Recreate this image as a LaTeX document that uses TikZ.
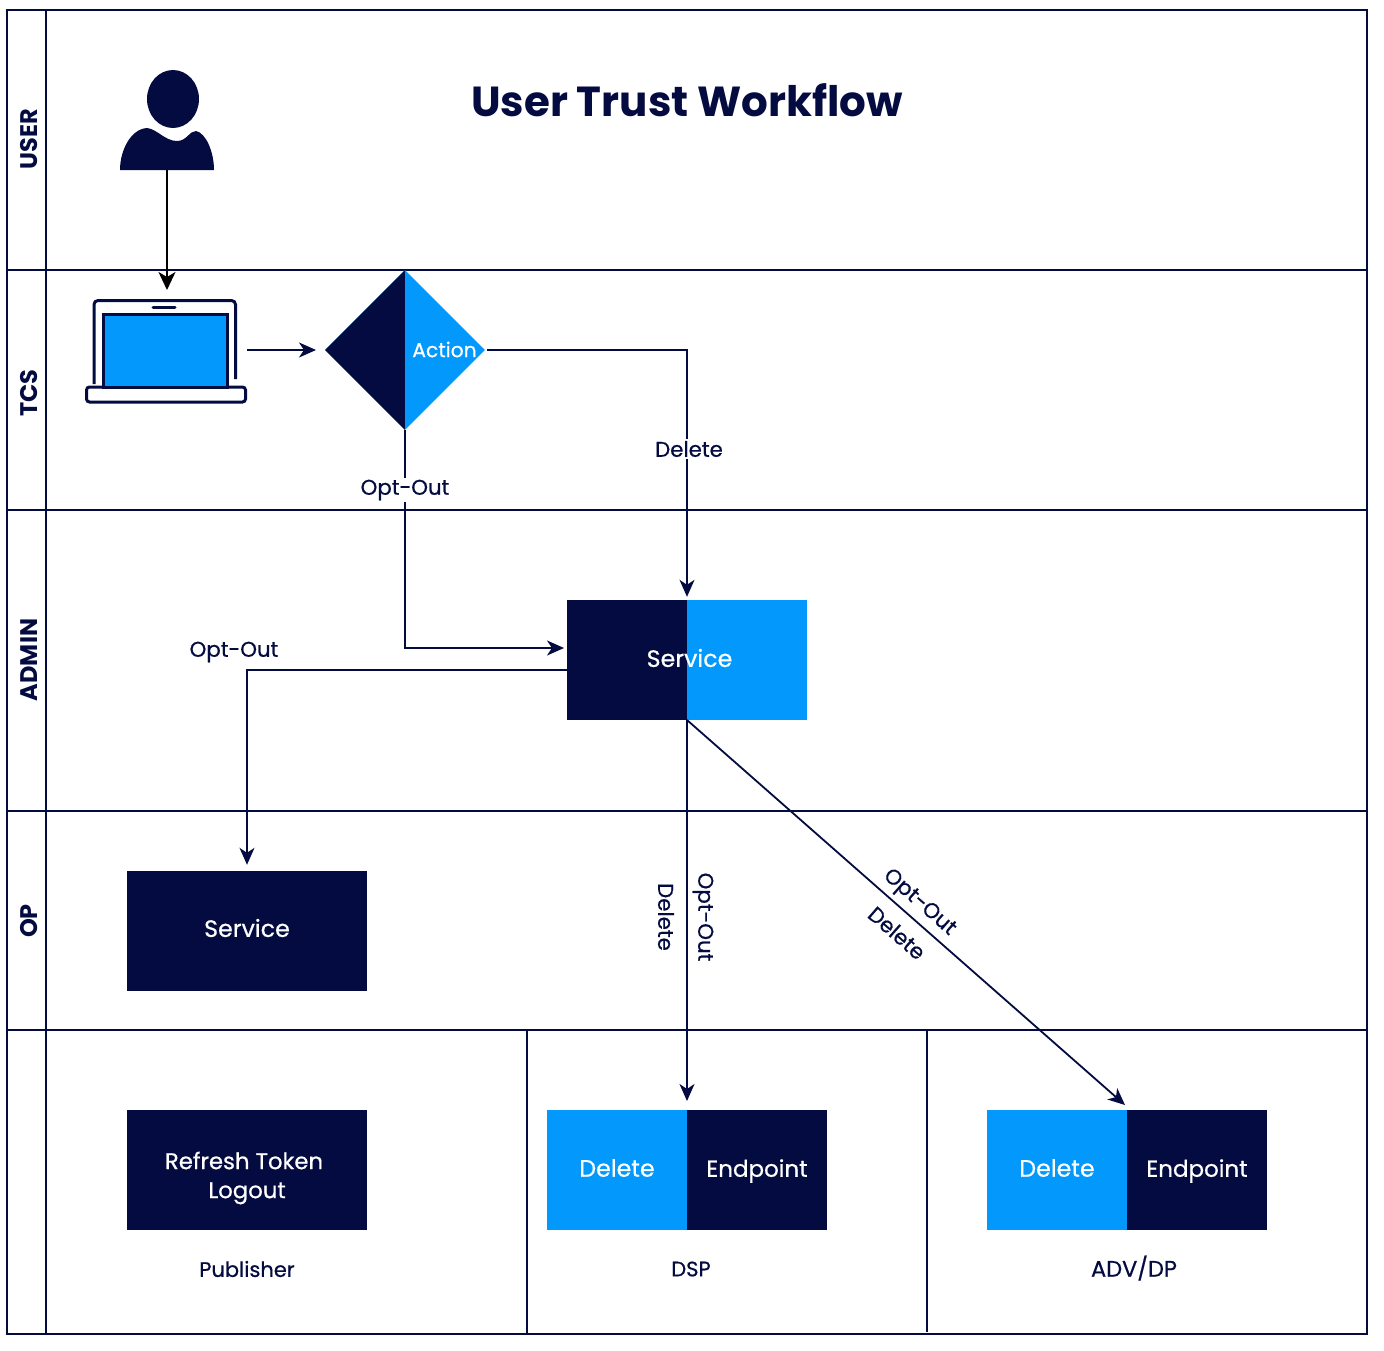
\documentclass[tikz,border=0pt]{standalone}
\usepackage{fontspec}
\setmainfont{Poppins}
\newfontfamily\heavyfont{Poppins}[FakeBold=0.6]
\usetikzlibrary{shapes.geometric,arrows.meta}
\definecolor{navy}{HTML}{030B40}
\definecolor{sky}{HTML}{0398FC}
\tikzset{
    lane/.style={draw=navy, line width=2pt},
    flow/.style={draw=navy, line width=1.8pt, -{Stealth[length=17pt,width=15pt,inset=5pt]}},
    lanelabel/.style={text=navy, font=\fontsize{24}{28}\selectfont\bfseries, rotate=90},
    edgelabel/.style={text=navy, font=\fontsize{21.3}{24}\selectfont\heavyfont, inner sep=2pt},
    collabel/.style={text=navy, font=\fontsize{21}{24}\selectfont\heavyfont, inner sep=2pt},
    boxlabel/.style={text=white, font=\fontsize{23.7}{29}\selectfont\heavyfont, align=center, inner sep=0pt},
    darkbox/.style={fill=navy, minimum width=240pt, minimum height=120pt, inner sep=0pt},
    halfbox/.style={minimum width=140pt, minimum height=120pt, inner sep=0pt},
}
\begin{document}
\begin{tikzpicture}[x=1pt,y=-1pt]
        \useasboundingbox (0,0) rectangle (1384,1350);

        % Lanes
        \draw[lane] (7,10) rectangle (1367,1334);
        \draw[lane] (46,10) -- (46,1334);
        \foreach \y in {270,510,811,1030}
            \draw[lane] (7,\y) -- (1367,\y);
        \draw[lane] (527,1030) -- (527,1334);
        \draw[lane] (927,1030) -- (927,1332);

        % Lane names
        \node[lanelabel] (laneUser) at (29.5,139) {USER};
        \node[lanelabel] (laneTcs) at (29.5,393) {TCS};
        \node[lanelabel] (laneAdmin) at (29.5,660) {ADMIN};
        \node[lanelabel] (laneOp) at (29.5,921) {OP};

        % Title
        \node[text=navy, font=\fontsize{42}{50}\selectfont\bfseries] (title) at (687,100) {User Trust Workflow};

        % Person
        \fill[navy] (173,99) ellipse (26 and 29);
        \fill[navy] (120,170) .. controls (120,150) and (131,129) .. (147,128)
            .. controls (157,129) and (165,141) .. (177,141)
            .. controls (187,141) and (189,131) .. (196,131)
            .. controls (206,133) and (214,152) .. (214,170) -- cycle;
        \coordinate (userFoot) at (167,170);

        % Laptop
        \draw[navy, line width=3pt, rounded corners=4pt] (94,384) -- (94,300.5) -- (235.5,300.5) -- (235.5,379);
        \draw[navy, line width=3pt, fill=white, rounded corners=3pt] (86.5,387) -- (86.5,402) -- (245.5,402) -- (245.5,387) -- (229,387) -- (103,387) -- cycle;
        \draw[navy, line width=3pt, fill=sky] (103,314) rectangle (227,387);
        \draw[navy, line width=3pt, line cap=round] (153,307) -- (175,307);
        \coordinate (laptopTop) at (167,290);
        \coordinate (laptopEast) at (247,350);

        % Diamond
        \node[diamond, fill=sky, minimum width=160pt, minimum height=160pt, inner sep=0pt,
            path picture={\fill[navy] (path picture bounding box.north west) rectangle (path picture bounding box.south);}] (action) at (405,350) {};
        \node[boxlabel, font=\fontsize{20.3}{24}\selectfont\heavyfont] (actionText) at (444.5,349.5) {Action};

        % Boxes
        \node[darkbox, fill=sky,
            path picture={\fill[navy] (path picture bounding box.north west) rectangle (path picture bounding box.south);}] (service) at (687,660) {};
        \node[boxlabel] (serviceText) at (689.5,658) {Service};
        \node[darkbox] (opService) at (247,931) {};
        \node[boxlabel] (opServiceText) at (247,928) {Service};
        \node[darkbox] (publisher) at (247,1170) {};
        \node[boxlabel, font=\fontsize{22.8}{29}\selectfont\heavyfont] (publisherText) at (244,1178) {Refresh Token\\\ Logout};

        \node[halfbox, fill=sky] (dspDelete) at (617,1170) {};
        \node[halfbox, fill=navy] (dspEnd) at (757,1170) {};
        \node[boxlabel] (dspDeleteText) at (617,1168) {Delete};
        \node[boxlabel, font=\fontsize{23}{29}\selectfont\heavyfont] (dspEndText) at (757,1171) {Endpoint};
        \node[halfbox, fill=sky] (advDelete) at (1057,1170) {};
        \node[halfbox, fill=navy] (advEnd) at (1197,1170) {};
        \node[boxlabel] (advDeleteText) at (1057,1168) {Delete};
        \node[boxlabel, font=\fontsize{23}{29}\selectfont\heavyfont] (advEndText) at (1197,1171) {Endpoint};

        % Column names
        \node[collabel] (colPublisher) at (247,1269) {Publisher};
        \node[collabel] (colDsp) at (691,1269) {DSP};
        \node[collabel, font=\fontsize{22.5}{24}\selectfont\heavyfont] (colAdv) at (1134,1268) {ADV/DP};

        % Free ends
        \coordinate (serviceIn) at (564,648);
        \coordinate (serviceOut) at (567,670);
        \coordinate (serviceBase) at (687,720);
        \coordinate (dspIn) at (687,1101);
        \coordinate (advIn) at (1125,1105);

        % Connectors
        \draw[flow, draw=black, -{Stealth[length=18pt,width=17pt,inset=5pt]}] (userFoot) -- (laptopTop);
        \draw[flow] (laptopEast) -- ++(69,0) coordinate (actionIn);
        \draw[flow, shorten <=2pt, shorten >=3pt] (action.east) -| (service.north);
        \draw[flow] (action.south) |- (serviceIn);
        \draw[flow, shorten >=6pt] (serviceOut) -| (opService.north);
        \draw[flow] (serviceBase) -- (dspIn);
        \draw[flow] (serviceBase) -- (advIn);

        % Labels on the lines
        \node[edgelabel, fill=white] (labDelete) at (689,449) {Delete};
        \node[edgelabel, fill=white] (labOptOut) at (405,490) {Opt-Out};
        \node[edgelabel] (labOptOutAdmin) at (234,652) {Opt-Out};
        \node[edgelabel, rotate=-90] (labDeleteDown) at (666,917) {Delete};
        \node[edgelabel, rotate=-90] (labOptOutDown) at (703,917) {Opt-Out};
        \node[edgelabel, rotate=-41.3] (labOptOutDiag) at (919,903) {Opt-Out};
        \node[edgelabel, rotate=-41.3] (labDeleteDiag) at (897,933) {Delete};
\end{tikzpicture}
\end{document}
